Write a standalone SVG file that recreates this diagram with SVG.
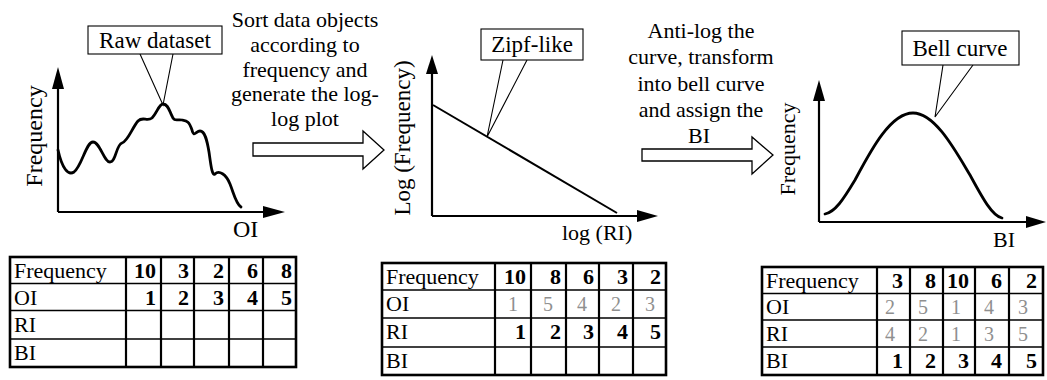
<svg xmlns="http://www.w3.org/2000/svg" width="1047" height="380" viewBox="0 0 1047 380">
  <style>
    text { font-family: "Liberation Serif", "Times New Roman", serif; fill: #000; }
    .lbl { font-size: 22px; }
    .ax { stroke: #000; stroke-width: 2.2; fill: none; }
    .head { fill: #000; stroke: none; }
    .curve { stroke: #000; stroke-width: 2.8; fill: none; stroke-linejoin: round; stroke-linecap: round; }
    .callout { fill: #fff; stroke: #000; stroke-width: 1.1; }
    .pointer { stroke: #000; stroke-width: 1.1; fill: none; }
    .block { fill: #fff; stroke: #000; stroke-width: 1.3; stroke-linejoin: miter; }
    .frame { fill: #fff; stroke: #000; stroke-width: 2.6; }
    .vl { stroke: #000; stroke-width: 2.2; }
    .hl { stroke: #000; stroke-width: 1.6; }
    .cell { font-size: 22px; }
    .num { font-size: 22px; font-weight: bold; text-anchor: end; }
    .dim { font-size: 20px; fill: #8f8f8f; text-anchor: middle; }
    .step { font-size: 22px; text-anchor: middle; }
  </style>

  <!-- Raw data: frequency against original index -->
  <g id="chart-raw">
    <line class="ax" x1="58" y1="212" x2="58" y2="84"/>
    <polygon class="head" points="58,67 52,89 64,89"/>
    <line class="ax" x1="58" y1="212" x2="268" y2="212"/>
    <polygon class="head" points="285,212 263,206 263,218"/>
    <path class="curve" d="M58,150 C62,168 68,176 74,172 C82,166 86,142 93,142 C100,142 104,162 110,162 C116,162 116,145 122,143 C128,141 132,128 138,121 C143,116 147,122 152,118 C157,113 159,104 163,104 C168,104 169,110 172,116 C174,122 177,119 182,120 C187,121 189,121 192,130 C194,138 196,131 200,131 C205,131 207,140 209,152 C211,166 212,176 215,174 C219,170 226,174 230,184 C234,194 236,204 241,207"/>
    <text x="42" y="136" font-size="24" text-anchor="middle" transform="rotate(-90 42 136)">Frequency</text>
    <text x="233" y="237" font-size="24">OI</text>
    <polyline class="pointer" points="140,54 163,105 173,54"/>
    <rect class="callout" x="88" y="26" width="134" height="28"/>
    <text x="155" y="48" font-size="23" text-anchor="middle">Raw dataset</text>
  </g>

  <!-- Log-log plot of sorted frequencies -->
  <g id="chart-zipf">
    <line class="ax" x1="432" y1="216" x2="432" y2="70"/>
    <polygon class="head" points="432,55 426,74 438,74"/>
    <line class="ax" x1="432" y1="216" x2="642" y2="216"/>
    <polygon class="head" points="658,216 637,210 637,222"/>
    <line x1="433" y1="105" x2="617" y2="213" stroke="#000" stroke-width="2"/>
    <text x="410" y="138" font-size="23" text-anchor="middle" transform="rotate(-90 410 138)">Log (Frequency)</text>
    <text x="562" y="240" class="lbl">log (RI)</text>
    <polyline class="pointer" points="503,60 487,137 527,60"/>
    <rect class="callout" x="481" y="29" width="102" height="31"/>
    <text x="532" y="52" font-size="23" text-anchor="middle">Zipf-like</text>
  </g>

  <!-- Bell-shaped distribution over BI -->
  <g id="chart-bell">
    <line class="ax" x1="819" y1="222" x2="819" y2="96"/>
    <polygon class="head" points="819,80 813,101 825,101"/>
    <line class="ax" x1="819" y1="222" x2="1030" y2="222"/>
    <polygon class="head" points="1046,222 1026,216 1026,228"/>
    <path class="curve" d="M825,214 C835,212 843,200 855,180 C870,152 890,113 913,113 C935,113 955,150 970,175 C982,197 992,216 1002,218"/>
    <text x="795" y="149" class="lbl" text-anchor="middle" transform="rotate(-90 795 149)">Frequency</text>
    <text x="993" y="247" class="lbl">BI</text>
    <polyline class="pointer" points="943,65 935,117 973,65"/>
    <rect class="callout" x="902" y="31" width="117" height="34"/>
    <text x="960" y="56" font-size="23" text-anchor="middle">Bell curve</text>
  </g>

  <!-- Step captions -->
  <g id="step-sort">
    <text class="step" x="305" y="27">Sort data objects</text>
    <text class="step" x="305" y="52">according to</text>
    <text class="step" x="305" y="77">frequency and</text>
    <text class="step" x="305" y="101">generate the log-</text>
    <text class="step" x="305" y="126">log plot</text>
  </g>
  <g id="step-antilog">
    <text class="step" x="701" y="38">Anti-log the</text>
    <text class="step" x="701" y="64">curve, transform</text>
    <text class="step" x="701" y="91">into bell curve</text>
    <text class="step" x="701" y="117">and assign the</text>
    <text class="step" x="699" y="143">BI</text>
  </g>

  <!-- Block arrows between the stages -->
  <g id="connectors">
    <polygon class="block" points="253,143 363,143 363,131 384,150 363,169 363,156 253,156"/>
    <polygon class="block" points="642,149 752,149 752,137 773,155 752,174 752,161 642,161"/>
  </g>

  <!-- Table: original order -->
  <g id="table-raw">
    <rect class="frame" x="10" y="257" width="286" height="110"/>
    <line class="hl" x1="10" y1="283.5" x2="296" y2="283.5"/>
    <line class="hl" x1="10" y1="310.5" x2="296" y2="310.5"/>
    <line class="hl" x1="10" y1="339" x2="296" y2="339"/>
    <line class="vl" x1="126" y1="257" x2="126" y2="367"/>
    <line class="vl" x1="161" y1="257" x2="161" y2="367"/>
    <line class="vl" x1="194" y1="257" x2="194" y2="367"/>
    <line class="vl" x1="229" y1="257" x2="229" y2="367"/>
    <line class="vl" x1="263" y1="257" x2="263" y2="367"/>
    <text class="cell" x="14" y="278">Frequency</text>
    <text class="cell" x="14" y="305">OI</text>
    <text class="cell" x="14" y="332">RI</text>
    <text class="cell" x="14" y="360">BI</text>
    <text class="num" x="156" y="278">10</text>
    <text class="num" x="189" y="278">3</text>
    <text class="num" x="224" y="278">2</text>
    <text class="num" x="258" y="278">6</text>
    <text class="num" x="292" y="278">8</text>
    <text class="num" x="156" y="305">1</text>
    <text class="num" x="189" y="305">2</text>
    <text class="num" x="224" y="305">3</text>
    <text class="num" x="258" y="305">4</text>
    <text class="num" x="292" y="305">5</text>
  </g>

  <!-- Table: sorted by frequency, rank index assigned -->
  <g id="table-sorted">
    <rect class="frame" x="382" y="263" width="284" height="112"/>
    <line class="hl" x1="382" y1="290" x2="666" y2="290"/>
    <line class="hl" x1="382" y1="318" x2="666" y2="318"/>
    <line class="hl" x1="382" y1="347" x2="666" y2="347"/>
    <line class="vl" x1="495" y1="263" x2="495" y2="375"/>
    <line class="vl" x1="531" y1="263" x2="531" y2="375"/>
    <line class="vl" x1="566" y1="263" x2="566" y2="375"/>
    <line class="vl" x1="599" y1="263" x2="599" y2="375"/>
    <line class="vl" x1="633" y1="263" x2="633" y2="375"/>
    <text class="cell" x="386" y="284">Frequency</text>
    <text class="cell" x="386" y="311">OI</text>
    <text class="cell" x="386" y="339">RI</text>
    <text class="cell" x="386" y="368">BI</text>
    <text class="num" x="526" y="284">10</text>
    <text class="num" x="561" y="284">8</text>
    <text class="num" x="594" y="284">6</text>
    <text class="num" x="628" y="284">3</text>
    <text class="num" x="661" y="284">2</text>
    <text class="dim" x="513" y="311">1</text>
    <text class="dim" x="548" y="311">5</text>
    <text class="dim" x="582" y="311">4</text>
    <text class="dim" x="616" y="311">2</text>
    <text class="dim" x="650" y="311">3</text>
    <text class="num" x="526" y="339">1</text>
    <text class="num" x="561" y="339">2</text>
    <text class="num" x="594" y="339">3</text>
    <text class="num" x="628" y="339">4</text>
    <text class="num" x="661" y="339">5</text>
  </g>

  <!-- Table: bell ordering with bell index -->
  <g id="table-bell">
    <rect class="frame" x="762" y="267" width="281" height="108"/>
    <line class="hl" x1="762" y1="293.5" x2="1043" y2="293.5"/>
    <line class="hl" x1="762" y1="320" x2="1043" y2="320"/>
    <line class="hl" x1="762" y1="347" x2="1043" y2="347"/>
    <line class="vl" x1="877" y1="267" x2="877" y2="375"/>
    <line class="vl" x1="910" y1="267" x2="910" y2="375"/>
    <line class="vl" x1="943" y1="267" x2="943" y2="375"/>
    <line class="vl" x1="975" y1="267" x2="975" y2="375"/>
    <line class="vl" x1="1009" y1="267" x2="1009" y2="375"/>
    <text class="cell" x="766" y="288">Frequency</text>
    <text class="cell" x="766" y="314">OI</text>
    <text class="cell" x="766" y="341">RI</text>
    <text class="cell" x="766" y="368">BI</text>
    <text class="num" x="903" y="288">3</text>
    <text class="num" x="936" y="288">8</text>
    <text class="num" x="969" y="288">10</text>
    <text class="num" x="1002" y="288">6</text>
    <text class="num" x="1037" y="288">2</text>
    <text class="dim" x="890" y="314">2</text>
    <text class="dim" x="923" y="314">5</text>
    <text class="dim" x="956" y="314">1</text>
    <text class="dim" x="989" y="314">4</text>
    <text class="dim" x="1023" y="314">3</text>
    <text class="dim" x="890" y="341">4</text>
    <text class="dim" x="923" y="341">2</text>
    <text class="dim" x="956" y="341">1</text>
    <text class="dim" x="989" y="341">3</text>
    <text class="dim" x="1023" y="341">5</text>
    <text class="num" x="903" y="368">1</text>
    <text class="num" x="936" y="368">2</text>
    <text class="num" x="969" y="368">3</text>
    <text class="num" x="1002" y="368">4</text>
    <text class="num" x="1037" y="368">5</text>
  </g>
</svg>
